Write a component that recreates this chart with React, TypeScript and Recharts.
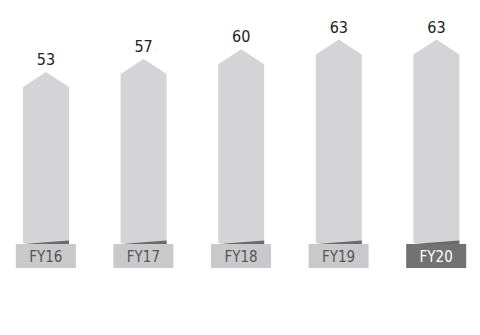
import { BarChart, Bar, XAxis, YAxis, LabelList } from "recharts";

const years = ["FY16", "FY17", "FY18", "FY19", "FY20"];
const values = [53, 57, 60, 63, 63];
const highlightYear = "FY20";

const data = years.map((year, i) => ({ year, value: values[i] }));

const FONT = "'Liberation Sans Narrow', 'DejaVu Sans Condensed', 'Liberation Sans', sans-serif";
const COLORS = {
  bar: "#d4d4d6",
  box: "#c9c9cb",
  boxHighlight: "#727272",
  wedge: "#6a6a6a",
  text: "#555555",
  value: "#222222",
};

// arrow-shaped column with a dark sliver at its foot
const ArrowBar = (props: any) => {
  const { x, y, width, height } = props;
  const bottom = y + height;
  const pts = [
    [x, y + 15],
    [x + width / 2, y],
    [x + width, y + 15],
    [x + width, bottom],
    [x, bottom],
  ]
    .map((p) => p.join(","))
    .join(" ");
  return (
    <g>
      <polygon points={pts} fill={COLORS.bar} />
      <polygon
        points={`${x},${bottom + 1} ${x + width},${bottom - 2.5} ${x + width},${bottom + 1}`}
        fill={COLORS.wedge}
      />
    </g>
  );
};

const YearTick = (props: any) => {
  const { x, y, payload } = props;
  const on = payload.value === highlightYear;
  return (
    <g>
      <rect x={x - 30} y={y + 1} width={60} height={24} fill={on ? COLORS.boxHighlight : COLORS.box} />
      <text
        x={x}
        y={y + 19}
        textAnchor="middle"
        fontFamily={FONT}
        fontSize={15}
        fill={on ? "#ffffff" : COLORS.text}
      >
        {payload.value}
      </text>
    </g>
  );
};

export default function App() {
  return (
    <div style={{ position: "absolute", left: 0, top: 0, background: "#fff" }}>
      <BarChart
        width={480}
        height={335}
        data={data}
        margin={{ top: 17, right: -5, bottom: 0, left: -3 }}
        barCategoryGap={0}
      >
        <XAxis
          dataKey="year"
          axisLine={false}
          tickLine={false}
          tickSize={0}
          tickMargin={0}
          height={92}
          interval={0}
          tick={<YearTick />}
        />
        <YAxis hide domain={[0, 70]} />
        <Bar dataKey="value" barSize={46} shape={<ArrowBar />} isAnimationActive={false}>
          <LabelList
            dataKey="value"
            position="top"
            offset={7}
            fill={COLORS.value}
            fontSize={16}
            fontFamily={FONT}
          />
        </Bar>
      </BarChart>
    </div>
  );
}
